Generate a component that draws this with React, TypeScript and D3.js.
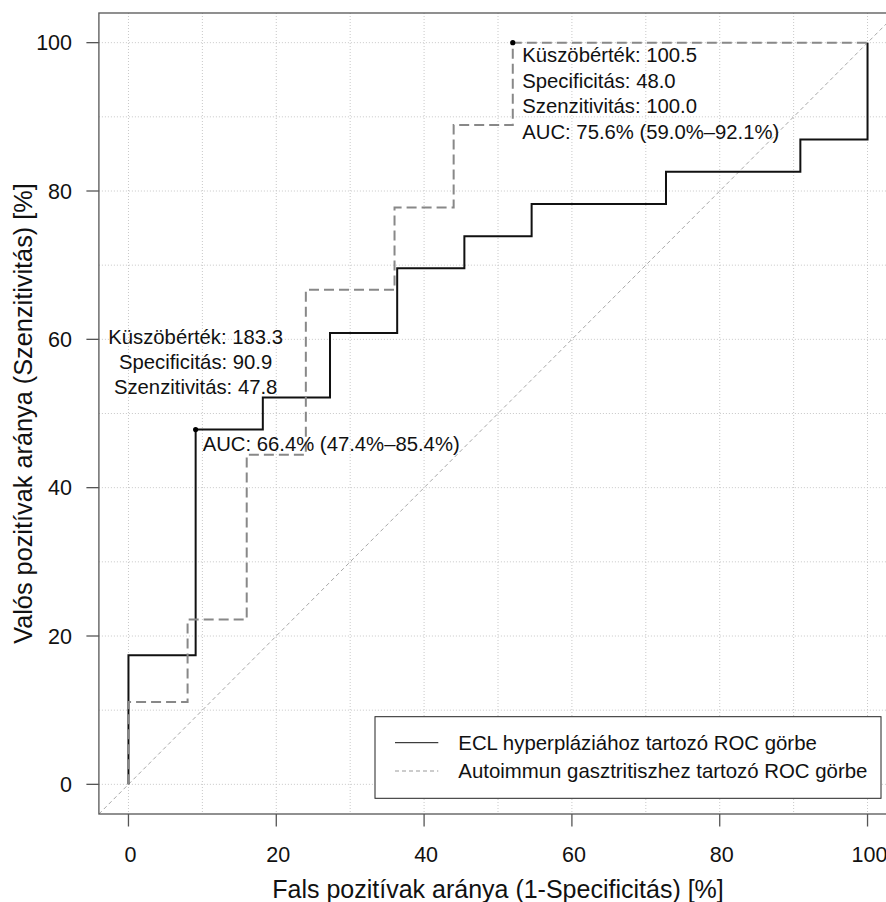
import React from "react";
import * as d3 from "d3";

// ---- data ----
const xTicks = [0, 20, 40, 60, 80, 100];
const yTicks = [0, 20, 40, 60, 80, 100];
const gridVals = [0, 10, 20, 30, 40, 50, 60, 70, 80, 90, 100];

// ECL hyperplasia ROC curve vertices (1-specificity %, sensitivity %)
const eclFpr = [0, 0, 9.09, 9.09, 18.18, 18.18, 27.27, 27.27, 36.36, 36.36, 45.45, 45.45, 54.55, 54.55, 72.73, 72.73, 90.91, 90.91, 100, 100];
const eclTpr = [0, 17.39, 17.39, 47.83, 47.83, 52.17, 52.17, 60.87, 60.87, 69.57, 69.57, 73.91, 73.91, 78.26, 78.26, 82.61, 82.61, 86.96, 86.96, 100];

// Autoimmune gastritis ROC curve vertices
const aigFpr = [0, 0, 8, 8, 16, 16, 24, 24, 36, 36, 44, 44, 52, 52, 100];
const aigTpr = [0, 11.11, 11.11, 22.22, 22.22, 44.44, 44.44, 66.67, 66.67, 77.78, 77.78, 88.89, 88.89, 100, 100];

// thresholds
const eclThr = { fpr: 9.09, tpr: 47.83 };
const aigThr = { fpr: 52, tpr: 100 };

const eclLabels = ["Küszöbérték: 183.3", "Specificitás: 90.9", "Szenzitivitás: 47.8"];
const eclAuc = "AUC: 66.4% (47.4%–85.4%)";
const aigLabels = ["Küszöbérték: 100.5", "Specificitás: 48.0", "Szenzitivitás: 100.0", "AUC: 75.6% (59.0%–92.1%)"];

const legendLabels = ["ECL hyperpláziához tartozó ROC görbe", "Autoimmun gasztritiszhez tartozó ROC görbe"];

const xTitle = "Fals pozitívak aránya (1-Specificitás) [%]";
const yTitle = "Valós pozitívak aránya (Szenzitivitás) [%]";

const W = 886;
const H = 902;
const FONT = "'Liberation Sans', Arial, Helvetica, sans-serif";

export default function App() {
  const x = d3.scaleLinear().domain([-4, 104]).range([98.9, 897.1]);
  const y = d3.scaleLinear().domain([-4, 104]).range([814, 13]);

  const line = d3
    .line<[number, number]>()
    .x((d) => x(d[0]))
    .y((d) => y(d[1]));

  const eclPts: [number, number][] = eclFpr.map((v, i) => [v, eclTpr[i]]);
  const aigPts: [number, number][] = aigFpr.map((v, i) => [v, aigTpr[i]]);

  const x0 = x(-4), x1 = x(104), y0 = y(-4), y1 = y(104);
  const axisColor = "#555";

  return (
    <svg
      width={W}
      height={H}
      style={{ position: "absolute", left: 0, top: 0, display: "block", background: "#fff" }}
      fontFamily={FONT}
    >
      <defs>
        <clipPath id="plotclip">
          <rect x={x0} y={y1} width={x1 - x0} height={y0 - y1} />
        </clipPath>
      </defs>
      <rect x={0} y={0} width={W} height={H} fill="#fff" />

      {/* grid */}
      <g stroke="#c8c8c8" strokeWidth={1} strokeDasharray="1,2">
        {gridVals.map((v) => (
          <line key={"gx" + v} x1={x(v)} x2={x(v)} y1={y1} y2={y0} />
        ))}
        {gridVals.map((v) => (
          <line key={"gy" + v} x1={x0} x2={x1} y1={y(v)} y2={y(v)} />
        ))}
      </g>

      {/* diagonal */}
      <g clipPath="url(#plotclip)">
        <line
          x1={x(-4)}
          y1={y(-4)}
          x2={x(104)}
          y2={y(104)}
          stroke="#a8a8a8"
          strokeWidth={1}
          strokeDasharray="4,3"
        />
      </g>

      {/* curves */}
      <path d={line(eclPts) || ""} fill="none" stroke="#111" strokeWidth={2} />
      <path d={line(aigPts) || ""} fill="none" stroke="#888" strokeWidth={2} strokeDasharray="10,5" />

      {/* threshold points */}
      <circle cx={x(eclThr.fpr)} cy={y(eclThr.tpr)} r={2.6} fill="#000" />
      <circle cx={x(aigThr.fpr)} cy={y(aigThr.tpr)} r={2.6} fill="#000" />

      {/* ECL annotation */}
      <g fontSize={20.3} fill="#111">
        {eclLabels.map((t, i) => (
          <text key={t} x={x(eclThr.fpr)} y={343.7 + i * 25.3} textAnchor="middle">
            {t}
          </text>
        ))}
        <text x={x(eclThr.fpr) + 7} y={450.5}>
          {eclAuc}
        </text>
      </g>

      {/* AIG annotation */}
      <g fontSize={20.3} fill="#111">
        {aigLabels.map((t, i) => (
          <text key={t} x={x(aigThr.fpr) + 9.5} y={62 + i * 25.5}>
            {t}
          </text>
        ))}
      </g>

      {/* box */}
      <rect x={x0} y={y1} width={x1 - x0} height={y0 - y1} fill="none" stroke={axisColor} strokeWidth={1.3} />

      {/* axes ticks */}
      <g stroke={axisColor} strokeWidth={1.3}>
        {xTicks.map((v) => (
          <line key={"xt" + v} x1={x(v)} x2={x(v)} y1={y0} y2={y0 + 12.5} />
        ))}
        {yTicks.map((v) => (
          <line key={"yt" + v} x1={x0} x2={x0 - 12.5} y1={y(v)} y2={y(v)} />
        ))}
      </g>
      <g fontSize={21.5} fill="#111">
        {xTicks.map((v) => (
          <text key={"xl" + v} x={x(v) + 2} y={861.5} textAnchor="middle">
            {v}
          </text>
        ))}
        {yTicks.map((v) => (
          <text key={"yl" + v} x={72} y={y(v) + 7.5} textAnchor="end">
            {v}
          </text>
        ))}
      </g>

      {/* titles */}
      <text x={(x0 + x1) / 2} y={897.5} textAnchor="middle" fontSize={25} fill="#111">
        {xTitle}
      </text>
      <text
        transform={`translate(31.5, ${(y0 + y1) / 2}) rotate(-90)`}
        textAnchor="middle"
        fontSize={25.3}
        fill="#111"
      >
        {yTitle}
      </text>

      {/* legend */}
      <g>
        <rect x={375} y={716.7} width={506} height={81.6} fill="#fff" stroke="#222" strokeWidth={1} />
        <line x1={395} x2={438.3} y1={742.7} y2={742.7} stroke="#111" strokeWidth={1} />
        <line x1={395} x2={438.3} y1={771} y2={771} stroke="#999" strokeWidth={1} strokeDasharray="4,3" />
        <text x={458.3} y={750} fontSize={20.4} fill="#111">
          {legendLabels[0]}
        </text>
        <text x={458.3} y={778.3} fontSize={20.4} fill="#111">
          {legendLabels[1]}
        </text>
      </g>
    </svg>
  );
}
